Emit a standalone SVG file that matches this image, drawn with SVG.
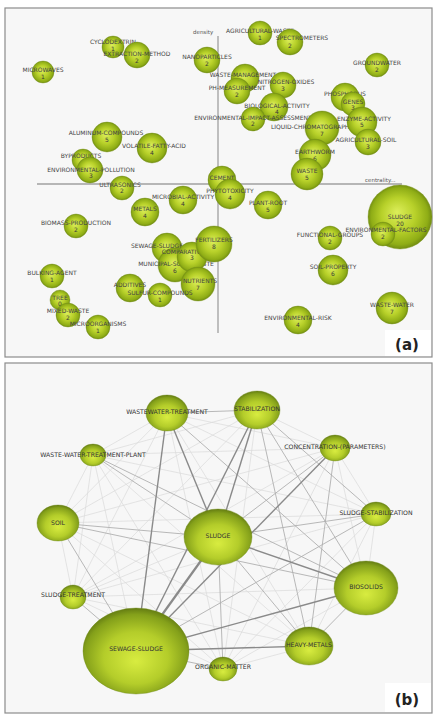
<svg xmlns="http://www.w3.org/2000/svg" width="438" height="720" viewBox="0 0 438 720">
<defs>
<radialGradient id="ga" cx="50%" cy="50%" r="52%" fx="45%" fy="42%">
<stop offset="0%" stop-color="#dcee5a"/>
<stop offset="50%" stop-color="#b8d12a"/>
<stop offset="85%" stop-color="#8fad16"/>
<stop offset="100%" stop-color="#6a8410"/>
</radialGradient>
<radialGradient id="gb" cx="50%" cy="55%" r="55%" fx="50%" fy="62%">
<stop offset="0%" stop-color="#d8ec40"/>
<stop offset="55%" stop-color="#b4cd2a"/>
<stop offset="88%" stop-color="#84a01a"/>
<stop offset="100%" stop-color="#647c12"/>
</radialGradient>
<style>
.panel{fill:#f7f7f7;stroke:#8c8c8c;stroke-width:1.2}
.axis{stroke:#a0a0a0;stroke-width:1.3;fill:none}
.na{fill:url(#ga);stroke:#7a9418;stroke-width:0.4}
.nb{fill:url(#gb);stroke:#6f8a16;stroke-width:0.4}
.la{font-family:"DejaVu Sans",sans-serif;font-size:6px;fill:#444;text-anchor:middle}
.nu{font-family:"DejaVu Sans",sans-serif;font-size:6px;fill:#3a3a3a;text-anchor:middle}
.lb{font-family:"DejaVu Sans",sans-serif;font-size:6.2px;fill:#333;text-anchor:middle}
.ax{font-family:"DejaVu Sans",sans-serif;font-size:5.5px;fill:#555}
.tag{font-family:"DejaVu Sans",sans-serif;font-size:15px;font-weight:bold;fill:#222;text-anchor:middle}
.s{stroke:#8a8a8a;stroke-width:1.4}
.m{stroke:#b0b0b0;stroke-width:0.9}
.w{stroke:#dadada;stroke-width:0.7}
</style>
</defs>
<rect x="0" y="0" width="438" height="720" fill="#ffffff"/>
<!-- Panel (a) -->
<rect class="panel" x="5" y="8" width="427" height="349"/>
<g id="axes-a">
<line class="axis" x1="218" y1="36" x2="218" y2="333"/>
<line class="axis" x1="37" y1="184" x2="402" y2="184"/>
<text class="ax" x="193" y="34">density</text>
<text class="ax" x="365" y="182">centrality...</text>
</g>
<g id="a-microwaves"><circle class="na" cx="43" cy="72" r="11"/><text class="la" x="43" y="72">MICROWAVES</text><text class="nu" x="43" y="79">1</text></g>
<g id="a-cyclodextrin"><circle class="na" cx="113" cy="47" r="11"/><text class="la" x="113" y="44">CYCLODEXTRIN</text><text class="nu" x="113" y="50.5">1</text></g>
<g id="a-extraction-method"><circle class="na" cx="137" cy="55" r="13"/><text class="la" x="137" y="56">EXTRACTION-METHOD</text><text class="nu" x="137" y="62.5">2</text></g>
<g id="a-nanoparticles"><circle class="na" cx="207" cy="60" r="13"/><text class="la" x="207" y="59">NANOPARTICLES</text><text class="nu" x="207" y="66">2</text></g>
<g id="a-agricultural-waste"><circle class="na" cx="260" cy="33" r="12"/><text class="la" x="260" y="33">AGRICULTURAL-WASTE</text><text class="nu" x="260" y="40">1</text></g>
<g id="a-spectrometers"><circle class="na" cx="290" cy="42" r="13"/><text class="la" x="302" y="40">SPECTROMETERS</text><text class="nu" x="290" y="48">2</text></g>
<g id="a-groundwater"><circle class="na" cx="377" cy="65" r="12"/><text class="la" x="377" y="65">GROUNDWATER</text><text class="nu" x="377" y="72">2</text></g>
<g id="a-waste-management"><circle class="na" cx="245" cy="78" r="14"/><text class="la" x="243" y="77">WASTE-MANAGEMENT</text></g>
<g id="a-nitrogen-oxides"><circle class="na" cx="283" cy="85" r="13"/><text class="la" x="286" y="84">NITROGEN-OXIDES</text><text class="nu" x="283" y="91">3</text></g>
<g id="a-ph-measurement"><circle class="na" cx="237" cy="91" r="13"/><text class="la" x="237" y="90">PH-MEASUREMENT</text><text class="nu" x="237" y="97">2</text></g>
<g id="a-phosphorus"><circle class="na" cx="345" cy="97" r="14"/><text class="la" x="345" y="96">PHOSPHORUS</text></g>
<g id="a-genes"><circle class="na" cx="353" cy="104" r="12"/><text class="la" x="353" y="103.5">GENES</text><text class="nu" x="353" y="110">3</text></g>
<g id="a-biological-activity"><circle class="na" cx="274" cy="107" r="14"/><text class="la" x="277" y="108">BIOLOGICAL-ACTIVITY</text><text class="nu" x="277" y="114">4</text></g>
<g id="a-environmental-impact-assessment"><circle class="na" cx="253" cy="119" r="12"/><text class="la" x="253" y="120">ENVIRONMENTAL-IMPACT-ASSESSMENT</text><text class="nu" x="253" y="126">2</text></g>
<g id="a-liquid-chromatography"><circle class="na" cx="322" cy="128" r="17"/><text class="la" x="312" y="129">LIQUID-CHROMATOGRAPHY</text><text class="nu" x="322" y="136">7</text></g>
<g id="a-enzyme-activity"><circle class="na" cx="362" cy="122" r="15"/><text class="la" x="364" y="121">ENZYME-ACTIVITY</text><text class="nu" x="362" y="127">5</text></g>
<g id="a-agricultural-soil"><circle class="na" cx="368" cy="142" r="13"/><text class="la" x="366" y="142">AGRICULTURAL-SOIL</text><text class="nu" x="368" y="149">3</text></g>
<g id="a-earthworm"><circle class="na" cx="315" cy="155" r="16"/><text class="la" x="315" y="154">EARTHWORM</text><text class="nu" x="315" y="161">6</text></g>
<g id="a-waste"><circle class="na" cx="307" cy="174" r="16"/><text class="la" x="307" y="173">WASTE</text><text class="nu" x="307" y="180">5</text></g>
<g id="a-aluminum-compounds"><circle class="na" cx="107" cy="137" r="15"/><text class="la" x="106" y="135">ALUMINUM-COMPOUNDS</text><text class="nu" x="107" y="142">5</text></g>
<g id="a-volatile-fatty-acid"><circle class="na" cx="152" cy="148" r="15"/><text class="la" x="154" y="148">VOLATILE-FATTY-ACID</text><text class="nu" x="152" y="155">4</text></g>
<g id="a-byproducts"><circle class="na" cx="83" cy="160" r="11"/><text class="la" x="81" y="158">BYPRODUCTS</text><text class="nu" x="83" y="164.5">1</text></g>
<g id="a-environmental-pollution"><circle class="na" cx="90" cy="170" r="13"/><text class="la" x="91" y="171.5">ENVIRONMENTAL-POLLUTION</text><text class="nu" x="91" y="178">3</text></g>
<g id="a-ultrasonics"><circle class="na" cx="122" cy="188" r="12"/><text class="la" x="120" y="187">ULTRASONICS</text><text class="nu" x="122" y="193">2</text></g>
<g id="a-microbial-activity"><circle class="na" cx="183" cy="200" r="14"/><text class="la" x="183" y="199">MICROBIAL-ACTIVITY</text><text class="nu" x="183" y="206">4</text></g>
<g id="a-metals"><circle class="na" cx="145" cy="212" r="14"/><text class="la" x="145" y="211">METALS</text><text class="nu" x="145" y="218">4</text></g>
<g id="a-biomass-production"><circle class="na" cx="76" cy="226" r="12"/><text class="la" x="76" y="225">BIOMASS-PRODUCTION</text><text class="nu" x="76" y="232">2</text></g>
<g id="a-cement"><circle class="na" cx="222" cy="180" r="14"/><text class="la" x="222" y="180">CEMENT</text></g>
<g id="a-phytotoxicity"><circle class="na" cx="230" cy="194" r="15"/><text class="la" x="230" y="193">PHYTOTOXICITY</text><text class="nu" x="230" y="200">4</text></g>
<g id="a-plant-root"><circle class="na" cx="268" cy="205" r="14"/><text class="la" x="268" y="205">PLANT-ROOT</text><text class="nu" x="268" y="212">5</text></g>
<g id="a-sludge"><circle class="na" cx="400" cy="217" r="32"/><text class="la" x="400" y="219">SLUDGE</text><text class="nu" x="400" y="226">20</text></g>
<g id="a-environmental-factors"><circle class="na" cx="383" cy="234" r="12"/><text class="la" x="386" y="232">ENVIRONMENTAL-FACTORS</text><text class="nu" x="383" y="239">2</text></g>
<g id="a-functional-groups"><circle class="na" cx="330" cy="238" r="12"/><text class="la" x="330" y="237">FUNCTIONAL-GROUPS</text><text class="nu" x="330" y="244">2</text></g>
<g id="a-soil-property"><circle class="na" cx="333" cy="270" r="15"/><text class="la" x="333" y="269">SOIL-PROPERTY</text><text class="nu" x="333" y="276">6</text></g>
<g id="a-waste-water"><circle class="na" cx="392" cy="308" r="16"/><text class="la" x="392" y="307">WASTE-WATER</text><text class="nu" x="392" y="314">7</text></g>
<g id="a-environmental-risk"><circle class="na" cx="298" cy="320" r="14"/><text class="la" x="298" y="320">ENVIRONMENTAL-RISK</text><text class="nu" x="298" y="327">4</text></g>
<g id="a-sewage-sludge"><circle class="na" cx="167" cy="248" r="15"/><text class="la" x="157" y="248">SEWAGE-SLUDGE</text></g>
<g id="a-municipal-solid-waste"><circle class="na" cx="175" cy="265" r="17"/><text class="la" x="176" y="266">MUNICIPAL-SOLID-WASTE</text><text class="nu" x="175" y="273">6</text></g>
<g id="a-comparative-study"><circle class="na" cx="192" cy="257" r="15"/><text class="la" x="194" y="254">COMPARATIVE-STUDY</text><text class="nu" x="192" y="260">3</text></g>
<g id="a-fertilizers"><circle class="na" cx="214" cy="244" r="18"/><text class="la" x="214" y="242">FERTILIZERS</text><text class="nu" x="214" y="248.5">8</text></g>
<g id="a-nutrients"><circle class="na" cx="198" cy="284" r="17"/><text class="la" x="200" y="283">NUTRIENTS</text><text class="nu" x="198" y="290">7</text></g>
<g id="a-additives"><circle class="na" cx="130" cy="288" r="14"/><text class="la" x="130" y="287">ADDITIVES</text></g>
<g id="a-sulfur-compounds"><circle class="na" cx="160" cy="295" r="12"/><text class="la" x="160" y="295">SULFUR-COMPOUNDS</text><text class="nu" x="160" y="302">1</text></g>
<g id="a-bulking-agent"><circle class="na" cx="52" cy="276" r="12"/><text class="la" x="52" y="275">BULKING-AGENT</text><text class="nu" x="52" y="282">1</text></g>
<g id="a-tree"><circle class="na" cx="60" cy="300" r="10"/><text class="la" x="60" y="300">TREE</text><text class="nu" x="60" y="306">0</text></g>
<g id="a-mixed-waste"><circle class="na" cx="68" cy="315" r="12"/><text class="la" x="68" y="313">MIXED-WASTE</text><text class="nu" x="68" y="320">2</text></g>
<g id="a-microorganisms"><circle class="na" cx="98" cy="327" r="12"/><text class="la" x="98" y="326">MICROORGANISMS</text><text class="nu" x="98" y="333">1</text></g>
<g id="a-tag"><rect x="385" y="330" width="46" height="26" fill="#ffffff"/><text class="tag" x="407" y="350">(a)</text></g>
<!-- Panel (b) -->
<rect class="panel" x="5" y="363" width="427" height="350"/>
<g id="connectors">
<line class="w" x1="167" y1="413" x2="93" y2="455"/>
<line class="w" x1="167" y1="413" x2="335" y2="448"/>
<line class="w" x1="167" y1="413" x2="58" y2="523"/>
<line class="w" x1="167" y1="413" x2="376" y2="514"/>
<line class="w" x1="167" y1="413" x2="73" y2="597"/>
<line class="w" x1="167" y1="413" x2="309" y2="646"/>
<line class="w" x1="167" y1="413" x2="223" y2="669"/>
<line class="w" x1="257" y1="410" x2="93" y2="455"/>
<line class="w" x1="257" y1="410" x2="335" y2="448"/>
<line class="w" x1="257" y1="410" x2="58" y2="523"/>
<line class="w" x1="257" y1="410" x2="73" y2="597"/>
<line class="w" x1="257" y1="410" x2="223" y2="669"/>
<line class="w" x1="93" y1="455" x2="335" y2="448"/>
<line class="w" x1="93" y1="455" x2="58" y2="523"/>
<line class="w" x1="93" y1="455" x2="376" y2="514"/>
<line class="w" x1="93" y1="455" x2="73" y2="597"/>
<line class="w" x1="93" y1="455" x2="309" y2="646"/>
<line class="w" x1="93" y1="455" x2="223" y2="669"/>
<line class="w" x1="93" y1="455" x2="136" y2="651"/>
<line class="w" x1="335" y1="448" x2="58" y2="523"/>
<line class="w" x1="335" y1="448" x2="376" y2="514"/>
<line class="w" x1="335" y1="448" x2="73" y2="597"/>
<line class="w" x1="335" y1="448" x2="366" y2="588"/>
<line class="w" x1="335" y1="448" x2="223" y2="669"/>
<line class="w" x1="58" y1="523" x2="376" y2="514"/>
<line class="w" x1="58" y1="523" x2="73" y2="597"/>
<line class="w" x1="58" y1="523" x2="309" y2="646"/>
<line class="w" x1="58" y1="523" x2="223" y2="669"/>
<line class="w" x1="376" y1="514" x2="73" y2="597"/>
<line class="w" x1="376" y1="514" x2="366" y2="588"/>
<line class="w" x1="376" y1="514" x2="309" y2="646"/>
<line class="w" x1="376" y1="514" x2="223" y2="669"/>
<line class="w" x1="73" y1="597" x2="366" y2="588"/>
<line class="w" x1="73" y1="597" x2="309" y2="646"/>
<line class="w" x1="73" y1="597" x2="223" y2="669"/>
<line class="w" x1="366" y1="588" x2="223" y2="669"/>
<line class="w" x1="73" y1="597" x2="218" y2="537"/>
<line class="w" x1="309" y1="646" x2="223" y2="669"/>
<line class="m" x1="167" y1="413" x2="257" y2="410"/>
<line class="m" x1="167" y1="413" x2="366" y2="588"/>
<line class="m" x1="257" y1="410" x2="376" y2="514"/>
<line class="m" x1="257" y1="410" x2="366" y2="588"/>
<line class="m" x1="257" y1="410" x2="309" y2="646"/>
<line class="m" x1="93" y1="455" x2="218" y2="537"/>
<line class="m" x1="93" y1="455" x2="366" y2="588"/>
<line class="m" x1="335" y1="448" x2="218" y2="537"/>
<line class="m" x1="335" y1="448" x2="309" y2="646"/>
<line class="m" x1="58" y1="523" x2="366" y2="588"/>
<line class="m" x1="58" y1="523" x2="218" y2="537"/>
<line class="m" x1="376" y1="514" x2="218" y2="537"/>
<line class="m" x1="376" y1="514" x2="136" y2="651"/>
<line class="m" x1="218" y1="537" x2="309" y2="646"/>
<line class="m" x1="218" y1="537" x2="223" y2="669"/>
<line class="m" x1="136" y1="651" x2="73" y2="597"/>
<line class="m" x1="136" y1="651" x2="223" y2="669"/>
<line class="m" x1="366" y1="588" x2="309" y2="646"/>
<line class="m" x1="58" y1="523" x2="136" y2="651"/>
<line class="s" x1="257" y1="410" x2="218" y2="537"/>
<line class="s" x1="257" y1="410" x2="136" y2="651"/>
<line class="s" x1="167" y1="413" x2="136" y2="651"/>
<line class="s" x1="167" y1="413" x2="218" y2="537"/>
<line class="s" x1="218" y1="537" x2="136" y2="651" style="stroke-width:2.2"/>
<line class="s" x1="218" y1="537" x2="366" y2="588"/>
<line class="s" x1="136" y1="651" x2="366" y2="588"/>
<line class="s" x1="136" y1="651" x2="335" y2="448"/>
<line class="s" x1="136" y1="651" x2="309" y2="646"/>
</g>
<g id="b-wastewater-treatment"><ellipse class="nb" cx="167" cy="413" rx="21" ry="18"/><text class="lb" x="167" y="414">WASTEWATER-TREATMENT</text></g>
<g id="b-stabilization"><ellipse class="nb" cx="257" cy="410" rx="23" ry="19"/><text class="lb" x="257" y="411">STABILIZATION</text></g>
<g id="b-waste-water-treatment-plant"><ellipse class="nb" cx="93" cy="455" rx="13" ry="11"/><text class="lb" x="93" y="457">WASTE-WATER-TREATMENT-PLANT</text></g>
<g id="b-concentration-parameters"><ellipse class="nb" cx="335" cy="448" rx="15" ry="13"/><text class="lb" x="335" y="449">CONCENTRATION-(PARAMETERS)</text></g>
<g id="b-soil"><ellipse class="nb" cx="58" cy="523" rx="21" ry="18"/><text class="lb" x="58" y="525">SOIL</text></g>
<g id="b-sludge-stabilization"><ellipse class="nb" cx="376" cy="514" rx="15" ry="12"/><text class="lb" x="376" y="515">SLUDGE-STABILIZATION</text></g>
<g id="b-sludge"><ellipse class="nb" cx="218" cy="537" rx="34" ry="28"/><text class="lb" x="218" y="538">SLUDGE</text></g>
<g id="b-sludge-treatment"><ellipse class="nb" cx="73" cy="597" rx="13" ry="12"/><text class="lb" x="73" y="597">SLUDGE-TREATMENT</text></g>
<g id="b-sewage-sludge"><ellipse class="nb" cx="136" cy="651" rx="53" ry="43"/><text class="lb" x="136" y="651">SEWAGE-SLUDGE</text></g>
<g id="b-biosolids"><ellipse class="nb" cx="366" cy="588" rx="32" ry="27"/><text class="lb" x="366" y="589">BIOSOLIDS</text></g>
<g id="b-heavy-metals"><ellipse class="nb" cx="309" cy="646" rx="24" ry="19"/><text class="lb" x="309" y="647">HEAVY-METALS</text></g>
<g id="b-organic-matter"><ellipse class="nb" cx="223" cy="669" rx="14" ry="12"/><text class="lb" x="223" y="669">ORGANIC-MATTER</text></g>
<g id="b-tag"><rect x="385" y="683" width="46" height="29" fill="#ffffff"/><text class="tag" x="407" y="705">(b)</text></g>
</svg>
